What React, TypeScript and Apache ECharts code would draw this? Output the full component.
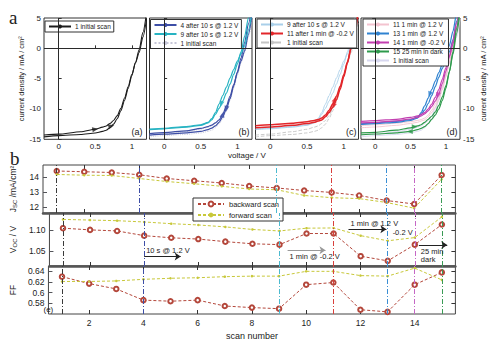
import React, { useEffect, useRef } from 'react';
import * as echarts from 'echarts';

// ---------- top panels: J-V curves (voltage grid shared by all curves) ----------
const VOLTS = [-0.2, 0, 0.3, 0.5, 0.6, 0.65, 0.7, 0.75, 0.8, 0.85, 0.9, 0.95, 1.0, 1.05, 1.1, 1.15, 1.2];

const scan1Back = [-14.6, -14.4, -14.2, -13.95, -13.7, -13.5, -13.1, -12.5, -11.6, -10.3, -8.6, -6.6, -4.5, -2.3, -0.2, 2.6, 5.8];
const scan1Fwd = [-14.3, -14.15, -13.75, -13.35, -13.0, -12.8, -12.4, -11.9, -11.1, -9.9, -8.2, -6.3, -4.3, -2.4, -0.7, 1.8, 4.8];
const scan4Back = [-14.3, -14.15, -13.95, -13.7, -13.4, -13.15, -12.8, -12.2, -11.3, -10.0, -8.3, -6.2, -3.9, -1.6, 1.0, 4.0, 7.0];
const scan4Fwd = [-14.05, -13.9, -13.6, -13.2, -12.9, -12.65, -12.3, -11.8, -10.9, -9.5, -7.9, -6.0, -4.0, -2.1, -0.4, 2.3, 5.5];
const scan9Back = [-13.4, -13.27, -13.0, -12.7, -12.3, -11.8, -10.9, -9.9, -8.7, -7.4, -5.9, -4.3, -2.6, -0.6, 2.0, 5.0, 8.0];
const scan9Fwd = [-13.3, -13.18, -12.9, -12.6, -12.2, -11.6, -10.6, -9.2, -7.8, -6.4, -4.9, -3.5, -2.1, -0.9, 0.4, 3.0, 6.0];
const scan11Back = [-13.1, -12.97, -12.7, -12.4, -12.2, -12.0, -11.8, -11.3, -10.6, -9.7, -8.5, -6.8, -4.7, -2.4, 0.2, 3.2, 6.5];
const scan11Fwd = [-12.75, -12.62, -12.35, -12.1, -11.9, -11.75, -11.5, -11.0, -10.2, -9.2, -7.9, -6.3, -4.3, -2.2, 0.0, 2.8, 6.0];
const scan13Back = [-12.55, -12.43, -12.2, -11.9, -11.5, -10.6, -9.5, -8.2, -6.8, -5.4, -4.0, -2.6, -1.2, 0.5, 2.8, 5.6, 8.5];
const scan13Fwd = [-12.45, -12.3, -12.05, -11.75, -11.3, -10.9, -10.2, -9.1, -7.8, -6.3, -4.8, -3.3, -1.9, -0.6, 1.4, 4.4, 7.5];
const scan14Back = [-12.3, -12.2, -11.95, -11.65, -11.4, -11.15, -10.8, -10.3, -9.6, -8.7, -7.5, -5.8, -3.8, -1.4, 1.2, 4.2, 7.5];
const scan14Fwd = [-12.05, -11.92, -11.7, -11.4, -11.15, -10.9, -10.6, -10.0, -9.2, -8.1, -6.8, -5.1, -3.2, -1.3, 0.7, 3.5, 6.5];
const scan15Back = [-14.25, -14.13, -13.95, -13.7, -13.4, -13.2, -12.9, -12.4, -11.7, -11.0, -10.0, -8.6, -6.6, -3.9, -0.6, 3.2, 7.0];
const scan15Fwd = [-13.95, -13.85, -13.5, -13.1, -12.8, -12.6, -12.2, -11.7, -11.2, -10.5, -9.4, -8.0, -6.2, -3.8, -1.0, 2.4, 6.0];

const arrowsA = [[0.5, -13.35], [0.72, -12.8]];
const arrowsBBlue = [[0.85, -10.0], [0.8, -10.9]];
const arrowsBCyan = [[0.78, -9.2]];
const arrowsCRed = [[0.88, -8.4], [0.86, -9.5]];
const arrowsDBlue = [[0.77, -7.6]];
const arrowsDMagenta = [[0.89, -7.75]];
const arrowsDGreen = [[0.56, -12.92], [0.49, -13.72]];

const V_TICKS = [0, 0.5, 1];

// ---------- bottom panel: parameters vs scan number ----------
const SCANS = [1, 2, 3, 4, 5, 6, 7, 8, 9, 10, 11, 12, 13, 14, 15];
const jscBackward = [14.4, 14.35, 14.3, 14.15, 13.9, 13.75, 13.6, 13.4, 13.27, 13.1, 12.97, 12.77, 12.43, 12.2, 14.13];
const jscForward = [14.17, 14.12, 14.1, 13.9, 13.7, 13.55, 13.38, 13.2, 13.15, 12.77, 12.62, 12.56, 12.3, 11.92, 13.85];
const vocBackward = [1.1045, 1.1005, 1.098, 1.087, 1.082, 1.079, 1.073, 1.068, 1.066, 1.092, 1.092, 1.039, 1.028, 1.066, 1.113];
const vocForward = [1.125, 1.1235, 1.122, 1.119, 1.115, 1.112, 1.1075, 1.1015, 1.098, 1.1045, 1.105, 1.087, 1.075, 1.0825, 1.131];
const ffBackward = [0.63, 0.617, 0.607, 0.586, 0.584, 0.586, 0.575, 0.572, 0.57, 0.615, 0.619, 0.568, 0.564, 0.615, 0.638];
const ffForward = [0.621, 0.621, 0.622, 0.625, 0.627, 0.628, 0.63, 0.631, 0.631, 0.64, 0.64, 0.632, 0.631, 0.646, 0.624];

const SCAN_TICKS = [2, 4, 6, 8, 10, 12, 14];
const JSC_TICKS = [12, 13, 14];
const VOC_TICKS = [1.05, 1.1];
const FF_TICKS = [0.58, 0.6, 0.62, 0.64];
const MARKED_SCANS = [1, 4, 9, 11, 13, 14, 15];
const MARKED_COLORS = ['#3a3a3a', '#3d4ea6', '#4bbad0', '#d8403c', '#3a8ed4', '#c567c5', '#3a9a55'];

const FONT = '"Liberation Sans", Arial, Helvetica, sans-serif';
const SERIF = '"Liberation Serif", "DejaVu Serif", serif';

function curve(name: string, grid: number, ys: number[], color: string, width: number, type: any = 'solid', z = 2, extra: any = {}) {
  return {
    type: 'line', name, xAxisIndex: grid, yAxisIndex: grid,
    data: VOLTS.map((v, i) => [v, ys[i]]),
    symbol: 'none', smooth: 0.25, smoothMonotone: 'x',
    lineStyle: { color, width, type }, itemStyle: { color },
    silent: true, z, ...extra,
  };
}

function arrows(grid: number, pts: number[][], rots: number[], color: string) {
  return {
    type: 'scatter', xAxisIndex: grid, yAxisIndex: grid, symbol: 'triangle', symbolSize: [5, 6],
    data: pts.map((p, i) => ({ value: p, symbolRotate: rots[i] })),
    itemStyle: { color }, z: 6, silent: true,
  };
}

const zeroLines = {
  silent: true, symbol: ['none', 'none'], label: { show: false },
  lineStyle: { color: '#2a2a2a', width: 1, type: 'solid' },
  data: [{ xAxis: 0 }, { yAxis: 0 }],
};

const TOP_GRIDS = [
  { left: 44, top: 18, width: 102.5, height: 121.3 },
  { left: 149.5, top: 18, width: 102.5, height: 121.3 },
  { left: 255.5, top: 18, width: 103, height: 121.3 },
  { left: 361, top: 18, width: 99, height: 121.3 },
];
const BOTTOM_GRIDS = [
  { left: 41.6, right: 40.6, top: 165, height: 48 },
  { left: 41.6, right: 40.6, top: 213, height: 53 },
  { left: 41.6, right: 40.6, top: 266, height: 51 },
];

const tickLabel = { fontSize: 8, color: '#222', fontFamily: FONT };

function buildOption() {
  const grid: any[] = [
    ...TOP_GRIDS.map((g) => ({ ...g, show: true, borderColor: '#333', borderWidth: 1, containLabel: false })),
    ...BOTTOM_GRIDS.map((g) => ({ ...g, show: true, borderColor: '#444', borderWidth: 1, containLabel: false })),
  ];

  const xAxis: any[] = [];
  const yAxis: any[] = [];
  for (let i = 0; i < 4; i++) {
    xAxis.push({
      type: 'value', gridIndex: i, min: -0.2, max: 1.2,
      axisLine: { show: false },
      axisTick: { show: true, inside: true, length: 3, customValues: V_TICKS, lineStyle: { color: '#333' } },
      axisLabel: { show: true, customValues: V_TICKS, formatter: (v: number) => String(v), margin: 3, ...tickLabel },
      splitLine: { show: false },
    });
    const labelled = i === 0 || i === 3;
    yAxis.push({
      type: 'value', gridIndex: i, min: -15, max: 5, interval: 5,
      position: i === 3 ? 'right' : 'left',
      axisLine: { show: false },
      axisTick: { show: true, inside: true, length: 3, lineStyle: { color: '#333' } },
      axisLabel: { show: labelled, margin: 3, ...tickLabel },
      splitLine: { show: false },
      name: labelled ? 'current density / mA / cm²' : '',
      nameLocation: 'middle', nameRotate: 90, nameGap: 19,
      nameTextStyle: { fontSize: 7.5, color: '#222', fontFamily: FONT },
    });
  }
  for (let k = 0; k < 3; k++) {
    const last = k === 2;
    xAxis.push({
      type: 'value', gridIndex: 4 + k, min: 0.5, max: 15.5,
      axisLine: { show: !last, lineStyle: { color: '#555', width: 2.5 } },
      axisTick: { show: true, inside: true, length: 4, customValues: SCAN_TICKS, lineStyle: { color: '#333' } },
      axisLabel: { show: last, customValues: SCAN_TICKS, margin: 4, ...tickLabel, fontSize: 8.5 },
      splitLine: { show: false },
      name: last ? 'scan number' : '', nameLocation: 'middle', nameGap: 17,
      nameTextStyle: { fontSize: 9, color: '#222', fontFamily: FONT },
    });
  }
  const richName = {
    n: { fontSize: 8.5, color: '#222', fontFamily: FONT },
    s: { fontSize: 6, color: '#222', fontFamily: FONT, verticalAlign: 'bottom', padding: [5, 0, 0, 0] },
  };
  yAxis.push({
    type: 'value', gridIndex: 4, min: 11.6, max: 14.8,
    axisLine: { show: false },
    axisTick: { show: true, inside: true, length: 4, customValues: JSC_TICKS },
    axisLabel: { customValues: JSC_TICKS, margin: 4, ...tickLabel, fontSize: 8.5 },
    splitLine: { show: false },
    name: '{n|J}{s|SC}{n| /mA/cm²}', nameLocation: 'middle', nameRotate: 90, nameGap: 25,
    nameTextStyle: { rich: richName },
  });
  yAxis.push({
    type: 'value', gridIndex: 5, min: 1.016, max: 1.14,
    axisLine: { show: false },
    axisTick: { show: true, inside: true, length: 4, customValues: VOC_TICKS },
    axisLabel: { customValues: VOC_TICKS, formatter: (v: number) => v.toFixed(2), margin: 4, ...tickLabel, fontSize: 8.5 },
    splitLine: { show: false },
    name: '{n|V}{s|OC}{n| / V}', nameLocation: 'middle', nameRotate: 90, nameGap: 29,
    nameTextStyle: { rich: richName },
  });
  yAxis.push({
    type: 'value', gridIndex: 6, min: 0.56, max: 0.65,
    axisLine: { show: false },
    axisTick: { show: true, inside: true, length: 4, customValues: FF_TICKS },
    axisLabel: { customValues: FF_TICKS, formatter: (v: number) => String(v), margin: 4, ...tickLabel, fontSize: 8.5 },
    splitLine: { show: false },
    name: 'FF', nameLocation: 'middle', nameRotate: 90, nameGap: 27,
    nameTextStyle: { fontSize: 8.5, color: '#222', fontFamily: FONT },
  });
  const yMirror: any[] = [[11.6, 14.8, JSC_TICKS], [1.016, 1.14, VOC_TICKS], [0.56, 0.65, FF_TICKS]];
  for (let k = 0; k < 3; k++) {
    xAxis.push({
      type: 'value', gridIndex: 4 + k, min: 0.5, max: 15.5, position: 'top',
      axisLine: { show: false },
      axisTick: { show: true, inside: true, length: 4, customValues: SCAN_TICKS, lineStyle: { color: '#333' } },
      axisLabel: { show: false }, splitLine: { show: false },
    });
    yAxis.push({
      type: 'value', gridIndex: 4 + k, min: yMirror[k][0], max: yMirror[k][1], position: 'right',
      axisLine: { show: false },
      axisTick: { show: true, inside: true, length: 4, customValues: yMirror[k][2], lineStyle: { color: '#333' } },
      axisLabel: { show: false }, splitLine: { show: false },
    });
  }

  const series: any[] = [];
  // panel a
  series.push(curve('a|1 initial scan', 0, scan1Back, '#1c1c1c', 1.1, 'solid', 2, { markLine: zeroLines }));
  series.push(curve('a|1 initial scan', 0, scan1Fwd, '#1c1c1c', 1.1));
  series.push(arrows(0, arrowsA, [-80, -75], '#1c1c1c'));
  // panel b
  series.push(curve('b|1 initial scan', 1, scan1Back, '#c6c6d8', 0.9, 'dotted', 1, { markLine: zeroLines }));
  series.push(curve('b|1 initial scan', 1, scan1Fwd, '#c6c6d8', 0.9, 'dotted', 1));
  series.push(curve('b|4 after 10 s @ 1.2 V', 1, scan4Back, '#3d4ea6', 1.2));
  series.push(curve('b|4 after 10 s @ 1.2 V', 1, scan4Fwd, '#3d4ea6', 1.2));
  series.push(curve('b|9 after 10 s @ 1.2 V', 1, scan9Back, '#27b3c2', 1.2));
  series.push(curve('b|9 after 10 s @ 1.2 V', 1, scan9Fwd, '#27b3c2', 1.2));
  series.push(arrows(1, arrowsBBlue, [170, -15], '#3d4ea6'));
  series.push(arrows(1, arrowsBCyan, [165], '#27b3c2'));
  // panel c
  series.push(curve('c|1 initial scan', 2, scan1Back, '#c4c4c4', 0.9, 'dashed', 1, { markLine: zeroLines }));
  series.push(curve('c|1 initial scan', 2, scan1Fwd, '#c4c4c4', 0.9, 'dashed', 1));
  series.push(curve('c|9 after 10 s @ 1.2 V', 2, scan9Back, '#a9cfe9', 0.9, 'solid', 1));
  series.push(curve('c|9 after 10 s @ 1.2 V', 2, scan9Fwd, '#a9cfe9', 0.9, 'solid', 1));
  series.push(curve('c|11 after 1 min @ -0.2 V', 2, scan11Back, '#e2262a', 1.5));
  series.push(curve('c|11 after 1 min @ -0.2 V', 2, scan11Fwd, '#e2262a', 1.5));
  series.push(arrows(2, arrowsCRed, [-20, 160], '#e2262a'));
  // panel d
  series.push(curve('d|1 initial scan', 3, scan1Back, '#d7d7ef', 0.9, 'solid', 1, { markLine: zeroLines }));
  series.push(curve('d|1 initial scan', 3, scan1Fwd, '#d7d7ef', 0.9, 'solid', 1));
  series.push(curve('d|11 1 min @ 1.2 V', 3, scan11Back, '#f3c3cf', 0.9, 'solid', 1));
  series.push(curve('d|11 1 min @ 1.2 V', 3, scan11Fwd, '#f3c3cf', 0.9, 'solid', 1));
  series.push(curve('d|13 1 min @ 1.2 V', 3, scan13Back, '#2f82d0', 1.2));
  series.push(curve('d|13 1 min @ 1.2 V', 3, scan13Fwd, '#2f82d0', 1.2));
  series.push(curve('d|14 1 min @ -0.2 V', 3, scan14Back, '#c23fb0', 1.2));
  series.push(curve('d|14 1 min @ -0.2 V', 3, scan14Fwd, '#c23fb0', 1.2));
  series.push(curve('d|15 25 min in dark', 3, scan15Back, '#2e9a4c', 1.2));
  series.push(curve('d|15 25 min in dark', 3, scan15Fwd, '#2e9a4c', 1.2));
  series.push(arrows(3, arrowsDBlue, [160], '#2f82d0'));
  series.push(arrows(3, arrowsDMagenta, [170], '#c23fb0'));
  series.push(arrows(3, arrowsDGreen, [-90, 90], '#2e9a4c'));

  // bottom panels
  const vlineMark = {
    silent: true, symbol: ['none', 'none'], label: { show: false },
    lineStyle: { width: 1, type: [5, 2, 1, 2] },
    data: MARKED_SCANS.map((s, i) => ({ xAxis: s, lineStyle: { color: MARKED_COLORS[i] } })),
  };
  const sets = [
    [jscBackward, jscForward],
    [vocBackward, vocForward],
    [ffBackward, ffForward],
  ];
  const annotLabel = (text: string, pos: string) => ({
    show: true, formatter: text, position: pos, fontSize: 7.5, color: '#222', fontFamily: FONT, distance: 2,
  });
  sets.forEach(([back, fwd], k) => {
    const ax = 4 + k;
    const dummy: any = {
      type: 'line', xAxisIndex: ax, yAxisIndex: ax, data: SCANS.map((s, i) => [s, back[i]]),
      symbol: 'none', lineStyle: { opacity: 0 }, silent: true, z: 1, markLine: vlineMark,
    };
    if (k === 1) {
      dummy.markPoint = {
        silent: true,
        data: [{
          coord: [13.55, 1.0955], symbol: 'rect', symbolSize: [26, 9], itemStyle: { color: 'rgba(0,0,0,0)' },
          label: { show: true, position: 'inside', formatter: '-0.2 V', fontSize: 7.5, color: '#222', fontFamily: FONT },
        }],
      };
    }
    series.push(dummy);
    series.push({
      type: 'line', name: 'backward scan', xAxisIndex: ax, yAxisIndex: ax,
      data: SCANS.map((s, i) => [s, back[i]]),
      symbol: 'emptyCircle', symbolSize: 4.5,
      lineStyle: { color: '#b4473b', width: 1, type: [3, 2] },
      itemStyle: { color: '#b4473b', borderWidth: 1 }, silent: true, z: 3,
    });
    const fwdSeries: any = {
      type: 'line', name: 'forward scan', xAxisIndex: ax, yAxisIndex: ax,
      data: SCANS.map((s, i) => [s, fwd[i]]),
      symbol: 'circle', symbolSize: 2.5,
      lineStyle: { color: '#c8c83a', width: 1, type: [3, 2] },
      itemStyle: { color: '#c8c83a' }, silent: true, z: 3,
    };
    if (k === 1) {
      fwdSeries.markLine = {
        silent: true, symbol: ['none', 'arrow'], symbolSize: 6,
        lineStyle: { width: 1, type: 'solid', color: '#222' },
        data: [
          [{ coord: [4, 1.038], label: annotLabel('10 s @ 1.2 V', 'insideStartTop') }, { coord: [5.35, 1.038] }],
          [{ coord: [9.3, 1.053], lineStyle: { color: '#999' }, label: annotLabel('1 min @ -0.2 V', 'insideStartBottom') }, { coord: [10.7, 1.053] }],
          [{ coord: [11.55, 1.102], label: annotLabel('1 min @ 1.2 V', 'insideStartTop') }, { coord: [12.95, 1.102] }],
          [{ coord: [14.15, 1.065], label: annotLabel('25 min\ndark', 'insideStartBottom') }, { coord: [15.2, 1.065] }],
        ],
      };
    }
    series.push(fwdSeries);
  });

  const legendBase = {
    orient: 'vertical', selectedMode: false, backgroundColor: '#fff', borderColor: '#333', borderWidth: 1,
    borderRadius: 0, itemWidth: 22, itemHeight: 5, itemGap: 2, padding: [2, 3],
    textStyle: { fontSize: 6.5, color: '#222', fontFamily: FONT, padding: [0, 0, 0, -1] },
    formatter: (name: string) => name.slice(2),
  };
  const legend: any[] = [
    { ...legendBase, left: 45, top: 21, data: ['a|1 initial scan'] },
    { ...legendBase, left: 150.5, top: 19.5, data: ['b|4 after 10 s @ 1.2 V', 'b|9 after 10 s @ 1.2 V', 'b|1 initial scan'] },
    { ...legendBase, left: 257, top: 19, data: ['c|9 after 10 s @ 1.2 V', 'c|11 after 1 min @ -0.2 V', 'c|1 initial scan'] },
    { ...legendBase, left: 363, top: 19, data: ['d|11 1 min @ 1.2 V', 'd|13 1 min @ 1.2 V', 'd|14 1 min @ -0.2 V', 'd|15 25 min in dark', 'd|1 initial scan'] },
    {
      orient: 'vertical', selectedMode: false, backgroundColor: '#fff', borderColor: '#333', borderWidth: 1,
      left: 193, top: 198, itemWidth: 26, itemHeight: 6, itemGap: 3, padding: [2, 4],
      textStyle: { fontSize: 7.5, color: '#222', fontFamily: FONT },
      data: ['backward scan', 'forward scan'],
    },
  ];

  const txt = (text: string, x: number, y: number, size: number, align = 'left', vAlign = 'middle', font = FONT, extra: any = {}) => ({
    type: 'text', x, y, silent: true, z: 10,
    style: {
      text, fill: '#222', font: `${size}px ${font}`,
      align, verticalAlign: vAlign, textAlign: align, textVerticalAlign: vAlign, ...extra,
    },
  });

  const graphic = [
    txt('a', 9, 27, 19, 'left', 'bottom', SERIF),
    txt('b', 10, 167.5, 19, 'left', 'bottom', SERIF),
    txt('(a)', 142.5, 131.5, 9, 'right'),
    txt('(b)', 249.5, 131.5, 9, 'right'),
    txt('(c)', 356.5, 131.5, 9, 'right'),
    txt('(d)', 457.5, 131.5, 9, 'right'),
    txt('voltage / V', 247, 155, 8, 'center'),
    txt('(e)', 43.5, 309, 8, 'left', 'middle', FONT, { fontStyle: 'italic' }),
  ];

  return {
    animation: false,
    backgroundColor: '#fff',
    textStyle: { fontFamily: FONT },
    grid, xAxis, yAxis, series, legend, graphic,
  };
}

export default function App() {
  const ref = useRef<HTMLDivElement>(null);
  useEffect(() => {
    const chart = echarts.init(ref.current!, undefined, { renderer: 'svg' });
    chart.setOption(buildOption() as any);
    return () => chart.dispose();
  }, []);
  return <div ref={ref} style={{ position: 'fixed', left: 0, top: 0, width: 496, height: 341 }} />;
}
